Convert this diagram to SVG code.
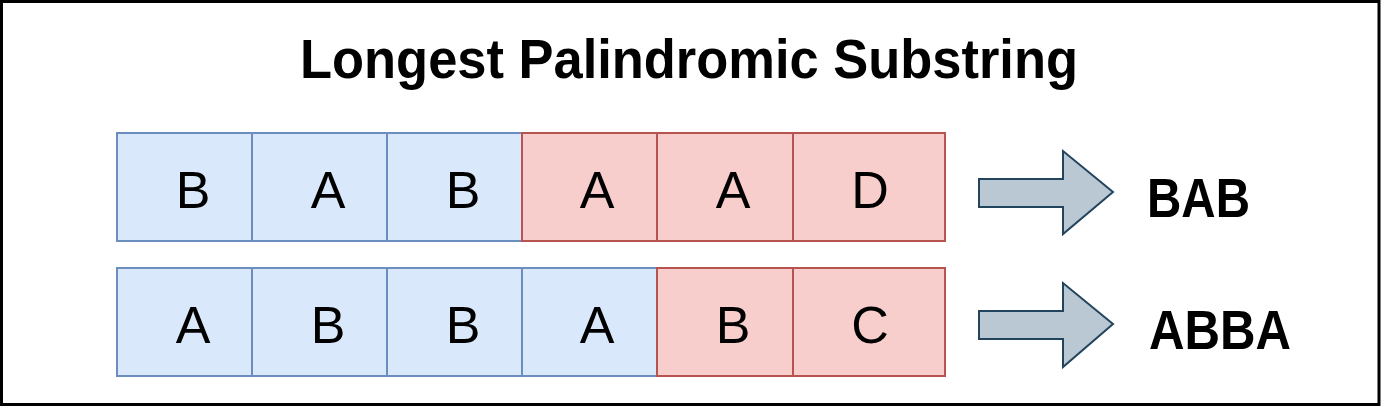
<svg xmlns="http://www.w3.org/2000/svg" width="1381" height="407" viewBox="0 0 1381 407">
<style>
.blue{fill:#dae8fc;stroke:#6c8ebf;stroke-width:2}
.red{fill:#f8cecc;stroke:#b85450;stroke-width:2}
.arrow{fill:#bac8d3;stroke:#23445d;stroke-width:2;stroke-linejoin:miter}
.cell{font-family:"Liberation Sans",Arial,sans-serif;font-size:52px;fill:#000;text-anchor:middle}
.res{font-family:"Liberation Sans",Arial,sans-serif;font-size:56px;font-weight:bold;fill:#000}
.title{font-family:"Liberation Sans",Arial,sans-serif;font-size:56px;font-weight:bold;fill:#000}
</style>
<rect x="0" y="0" width="1381" height="407" fill="#ffffff"/>
<rect x="1.5" y="1.5" width="1377.5" height="403" fill="none" stroke="#000" stroke-width="3"/>
<g id="title"><text class="title" x="300" y="78" textLength="778" lengthAdjust="spacingAndGlyphs">Longest Palindromic Substring</text></g>
<g id="row1">
<g id="r1c1"><rect class="blue" x="117" y="133" width="135" height="108"/><text class="cell" x="193" y="208">B</text></g>
<g id="r1c2"><rect class="blue" x="252" y="133" width="135" height="108"/><text class="cell" x="328" y="208">A</text></g>
<g id="r1c3"><rect class="blue" x="387" y="133" width="135" height="108"/><text class="cell" x="463" y="208">B</text></g>
<g id="r1c4"><rect class="red" x="522" y="133" width="135" height="108"/><text class="cell" x="597" y="208">A</text></g>
<g id="r1c5"><rect class="red" x="657" y="133" width="136" height="108"/><text class="cell" x="733" y="208">A</text></g>
<g id="r1c6"><rect class="red" x="793" y="133" width="152" height="108"/><text class="cell" x="870" y="208">D</text></g>
</g>
<g id="row2">
<g id="r2c1"><rect class="blue" x="117" y="268" width="135" height="108"/><text class="cell" x="193" y="343">A</text></g>
<g id="r2c2"><rect class="blue" x="252" y="268" width="135" height="108"/><text class="cell" x="328" y="343">B</text></g>
<g id="r2c3"><rect class="blue" x="387" y="268" width="135" height="108"/><text class="cell" x="463" y="343">B</text></g>
<g id="r2c4"><rect class="blue" x="522" y="268" width="135" height="108"/><text class="cell" x="597" y="343">A</text></g>
<g id="r2c5"><rect class="red" x="657" y="268" width="136" height="108"/><text class="cell" x="733" y="343">B</text></g>
<g id="r2c6"><rect class="red" x="793" y="268" width="152" height="108"/><text class="cell" x="870" y="343">C</text></g>
</g>
<g id="connectors">
<path class="arrow" d="M979,179 L1063,179 L1063,151 L1113,192 L1063,234 L1063,207 L979,207 Z"/>
<path class="arrow" d="M979,311 L1063,311 L1063,283 L1113,324 L1063,367 L1063,339 L979,339 Z"/>
</g>
<g id="result1"><text class="res" x="1147" y="217" textLength="103" lengthAdjust="spacingAndGlyphs">BAB</text></g>
<g id="result2"><text class="res" x="1149" y="349" textLength="142" lengthAdjust="spacingAndGlyphs">ABBA</text></g>
</svg>
